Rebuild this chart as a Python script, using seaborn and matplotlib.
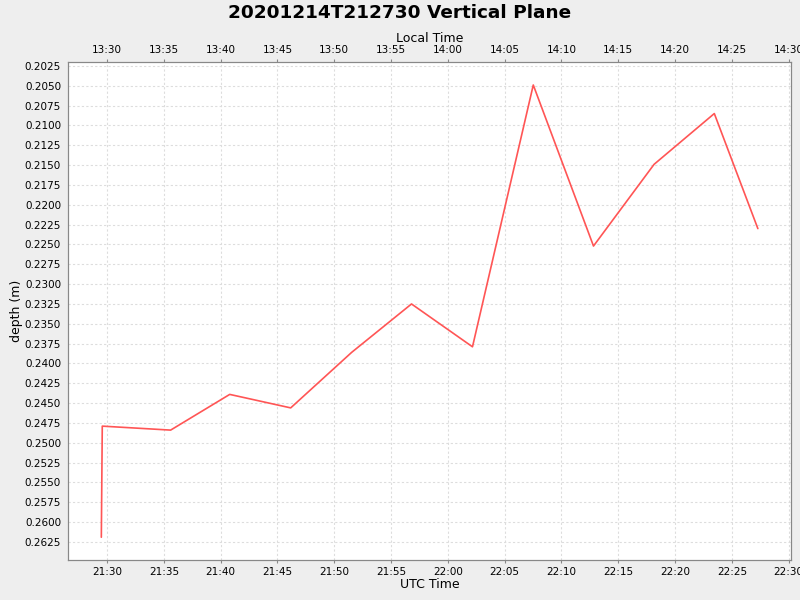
import matplotlib
matplotlib.use("Agg")
import matplotlib.pyplot as plt
import matplotlib.dates as mdates
import seaborn as sns
import pandas as pd
from matplotlib.ticker import MultipleLocator, FormatStrFormatter

# UTC times of the samples and depth values
utc_times = ["21:29:30", "21:29:35", "21:35:36", "21:40:48", "21:46:10",
             "21:51:32", "21:56:48", "22:02:10", "22:07:31", "22:12:49",
             "22:18:09", "22:23:27", "22:27:17"]
depth = [0.2619, 0.2479, 0.2484, 0.2439, 0.2456, 0.2386, 0.2325,
         0.2379, 0.2049, 0.2252, 0.2149, 0.2085, 0.2230]

df = pd.DataFrame({
    "utc": pd.to_datetime(["2020-12-14 " + t for t in utc_times]),
    "depth": depth,
})

sns.set_style("white")
plt.rcParams["font.family"] = ["DejaVu Sans"]
plt.rcParams["text.color"] = "black"
plt.rcParams["axes.labelcolor"] = "black"
plt.rcParams["xtick.labelcolor"] = "black"
plt.rcParams["ytick.labelcolor"] = "black"

fig = plt.figure(figsize=(8, 6), dpi=100, facecolor="#EEEEEE")
ax = fig.add_axes([0.085, 0.0667, 0.90375, 0.83])
ax.set_facecolor("white")

sns.lineplot(data=df, x="utc", y="depth", ax=ax, color="#FF5555",
             linewidth=1.2, sort=False, estimator=None)

x0 = pd.Timestamp("2020-12-14 21:26:34")
x1 = pd.Timestamp("2020-12-14 22:30:12")
ax.set_xlim(x0, x1)
ax.set_ylim(0.26477, 0.2020)

ax.yaxis.set_major_locator(MultipleLocator(0.0025))
ax.yaxis.set_major_formatter(FormatStrFormatter("%.4f"))
ax.xaxis.set_major_locator(mdates.MinuteLocator(byminute=range(0, 60, 5)))
ax.xaxis.set_major_formatter(mdates.DateFormatter("%H:%M"))

ax.grid(True, color="#DDDDDD", linestyle=(0, (2, 2)), linewidth=0.8)
for s in ax.spines.values():
    s.set_color("#888888")
ax.tick_params(axis="both", which="major", labelsize=7.5, length=2,
               color="#888888", direction="out", pad=3)
ax.set_xlabel("UTC Time", fontsize=9, labelpad=1)
ax.set_ylabel("depth (m)", fontsize=9, labelpad=1)

# local time axis on top (UTC - 8h)
top = ax.twiny()
top.set_xlim(x0 - pd.Timedelta(hours=8), x1 - pd.Timedelta(hours=8))
top.xaxis.set_major_locator(mdates.MinuteLocator(byminute=range(0, 60, 5)))
top.xaxis.set_major_formatter(mdates.DateFormatter("%H:%M"))
top.tick_params(axis="x", labelsize=7.5, length=2, color="#888888", pad=3)
top.set_xlabel("Local Time", fontsize=9, labelpad=2)
for s in top.spines.values():
    s.set_color("#888888")

fig.suptitle("20201214T212730 Vertical Plane", fontsize=13.3,
             fontweight="bold", y=0.993)

fig.savefig("out.png", dpi=100, facecolor=fig.get_facecolor())
